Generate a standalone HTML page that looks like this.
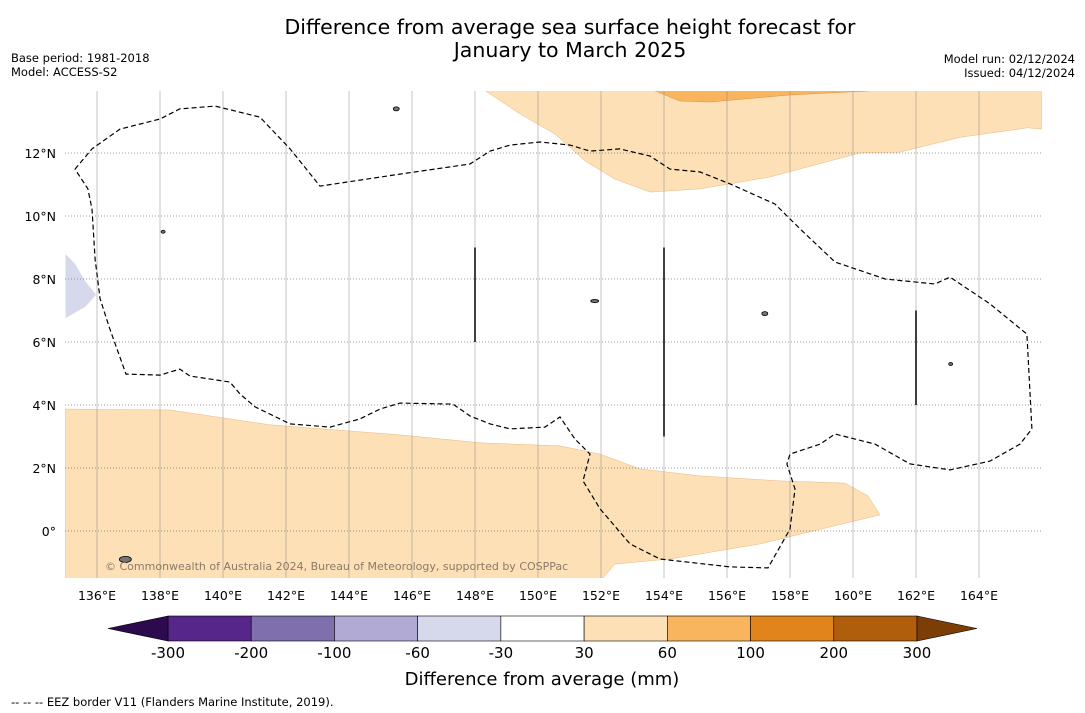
<!DOCTYPE html>
<html><head><meta charset="utf-8">
<style>
body{margin:0;background:#fff;width:1085px;height:713px;overflow:hidden;font-family:"DejaVu Sans","Liberation Sans",sans-serif;}
svg{display:block}
</style></head>
<body>
<svg id="chart" width="1085" height="713" xmlns="http://www.w3.org/2000/svg">
<rect width="1085" height="713" fill="#fff"/>
<text x="570" y="34" font-size="20.5" text-anchor="middle">Difference from average sea surface height forecast for</text>
<text x="570" y="57" font-size="20.5" text-anchor="middle">January to March 2025</text>
<text x="11" y="62" font-size="11.5">Base period: 1981-2018</text>
<text x="11" y="76" font-size="11.5">Model: ACCESS-S2</text>
<text x="1075" y="63" font-size="11.5" text-anchor="end">Model run: 02/12/2024</text>
<text x="1075" y="77" font-size="11.5" text-anchor="end">Issued: 04/12/2024</text>
<defs><clipPath id="mapclip"><rect x="65" y="91" width="977" height="487"/></clipPath></defs>
<g id="map" clip-path="url(#mapclip)"></g>
<g id="axes"></g>
<g id="cbar"></g>
<text x="542" y="685" font-size="18" text-anchor="middle">Difference from average (mm)</text>
<text x="11" y="706" font-size="11.5">--  --  -- EEZ border V11 (Flanders Marine Institute, 2019).</text>
</svg>
<script>
const lonTicks=[136,138,140,142,144,146,148,150,152,154,156,158,160,162,164];
const latTicks=[12,10,8,6,4,2,0];
const cbLevels=[-300,-200,-100,-60,-30,30,60,100,200,300];
const cbColors=["#56268a","#7f70ad","#b1aad4","#d6d8eb","#ffffff","#fde0b6","#f9b45e","#e0841b","#b05e0c"];
const cbExtLow="#2d0a4e", cbExtHigh="#7c3e06";
const shapeTopLight=[[148.29,14],[149.43,13.24],[150.54,12.6],[151.49,11.75],[152.44,11.17],[153.56,10.76],[155.14,10.86],[157.37,11.24],[160.22,12.0],[161.49,12.03],[163.4,12.5],[165.55,12.8],[166,12.76],[166,14]];
const shapeTopDark=[[153.65,14],[154.5,13.65],[155.46,13.62],[157.98,13.84],[160.52,13.97],[160.6,14]];
const shapeBottomLight=[[135,3.87],[138.32,3.84],[141.49,3.37],[145.62,3.05],[148.16,2.8],[150.7,2.7],[151.97,2.44],[153.24,1.97],[155.14,1.75],[157.68,1.59],[159.75,1.52],[160.48,1.11],[160.86,0.51],[159.27,0.13],[157.05,-0.41],[154.19,-0.89],[152.44,-1.05],[151.97,-1.6],[135,-1.6]];
const shapeLeftPurple=[[135,8.79],[135.3,8.48],[135.62,7.94],[135.97,7.5],[135.62,7.11],[135,6.76]];
const eez=[[135.30,11.49],[135.84,12.13],[136.73,12.76],[138.0,13.08],[138.63,13.40],[139.75,13.49],[141.17,13.14],[142.13,12.13],[143.08,10.95],[145.62,11.33],[147.84,11.65],[148.48,12.06],[149.11,12.25],[150.06,12.35],[151.02,12.25],[151.65,12.06],[152.6,12.13],[153.56,11.90],[154.19,11.49],[155.14,11.40],[156.1,11.02],[157.52,10.38],[158.32,9.59],[159.43,8.54],[161.02,8.0],[162.6,7.84],[163.08,8.06],[164.35,7.21],[165.52,6.25],[165.68,3.24],[165.3,2.76],[164.35,2.22],[163.08,1.94],[161.81,2.13],[160.7,2.76],[159.43,3.08],[158.96,2.76],[158.0,2.44],[157.9,2.13],[158.16,1.33],[158.0,0.06],[157.3,-1.17],[156.1,-1.14],[153.87,-0.89],[152.92,-0.41],[151.97,0.70],[151.43,1.59],[151.65,2.44],[151.17,2.92],[150.7,3.62],[150.22,3.30],[149.11,3.24],[148.48,3.40],[147.84,3.65],[147.3,4.03],[145.62,4.06],[144.98,3.87],[144.35,3.56],[143.4,3.30],[142.13,3.40],[141.02,3.94],[140.54,4.35],[140.22,4.73],[138.95,4.92],[138.63,5.14],[138.0,4.95],[136.92,4.98],[136.41,6.41],[136.1,7.37],[135.94,8.63],[135.84,10.22],[135.71,10.86],[135.30,11.49]];
const eezSegments=[[148,6,9],[154,3,9],[162,4,7]];
const islands=[[136.9,-0.9,6,3],[145.5,13.4,3,2],[157.2,6.9,3,2],[151.8,7.3,4,1.5],[163.1,5.3,2,1.5],[138.1,9.5,2,1.5]];

const NS="http://www.w3.org/2000/svg";
const X=lon=>65.5+(lon-135)*31.5;
const Y=lat=>531-lat*31.5;
function mk(tag,attrs,parent){const e=document.createElementNS(NS,tag);for(const k in attrs)e.setAttribute(k,attrs[k]);parent.appendChild(e);return e;}
const map=document.getElementById('map'),axes=document.getElementById('axes'),cbar=document.getElementById('cbar');
const pts=a=>a.map(p=>X(p[0]).toFixed(1)+','+Y(p[1]).toFixed(1)).join(' ');

let p;
p=mk('polygon',{points:pts(shapeTopLight),fill:"#fde0b6",stroke:"#e8b880","stroke-width":0.5},map);

p=mk('polygon',{points:pts(shapeTopDark),fill:"#f9b45e",stroke:"#d99040","stroke-width":0.5},map);

p=mk('polygon',{points:pts(shapeBottomLight),fill:"#fde0b6",stroke:"#e8b880","stroke-width":0.5},map);

p=mk('polygon',{points:pts(shapeLeftPurple),fill:"#d6d8eb"},map);


lonTicks.forEach(l=>{
  const g=mk('line',{x1:X(l),x2:X(l),y1:91,y2:578,stroke:"#888","stroke-width":0.5},map);
  
  const t=mk('text',{x:X(l),y:600,"font-size":12.5,"text-anchor":"middle"},axes);
  t.textContent=l+'°E';
  
});
latTicks.forEach(l=>{
  const g=mk('line',{x1:65,x2:1042,y1:Y(l),y2:Y(l),stroke:"#777","stroke-width":0.7,"stroke-dasharray":"1,2"},map);
  
  const t=mk('text',{x:56,y:Y(l)+5,"font-size":12.5,"text-anchor":"end"},axes);
  t.textContent=l===0?'0°':l+'°N';
  
});

p=mk('polyline',{points:pts(eez),fill:"none",stroke:"#000","stroke-width":1.2,"stroke-dasharray":"5,3"},map);

eezSegments.forEach(s=>{
  const l=mk('line',{x1:X(s[0]),x2:X(s[0]),y1:Y(s[1]),y2:Y(s[2]),stroke:"#000","stroke-width":1.5},map);
  
});
islands.forEach(i=>{
  const e=mk('ellipse',{cx:X(i[0]),cy:Y(i[1]),rx:i[2],ry:i[3],fill:"#777",stroke:"#000","stroke-width":0.8},map);
  
});
const wm=mk('text',{x:105,y:570,"font-size":11,fill:"#8a7a6a"},map);
wm.textContent='© Commonwealth of Australia 2024, Bureau of Meteorology, supported by COSPPac';


const cbX0=168,cbX1=917,cbY=616,cbH=25,n=cbColors.length,w=(cbX1-cbX0)/n;
cbColors.forEach((c,i)=>{
  const r=mk('rect',{x:cbX0+i*w,y:cbY,width:w,height:cbH,fill:c,stroke:"#000","stroke-width":0.6},cbar);
  
});
let tri=mk('polygon',{points:`${cbX0},${cbY} 108,${cbY+cbH/2} ${cbX0},${cbY+cbH}`,fill:cbExtLow,stroke:"#000","stroke-width":0.6},cbar);

tri=mk('polygon',{points:`${cbX1},${cbY} 977,${cbY+cbH/2} ${cbX1},${cbY+cbH}`,fill:cbExtHigh,stroke:"#000","stroke-width":0.6},cbar);

cbLevels.forEach((v,i)=>{
  const t=mk('text',{x:cbX0+i*w,y:658,"font-size":15,"text-anchor":"middle"},cbar);
  t.textContent=v;
  
});
</script>
</body></html>
